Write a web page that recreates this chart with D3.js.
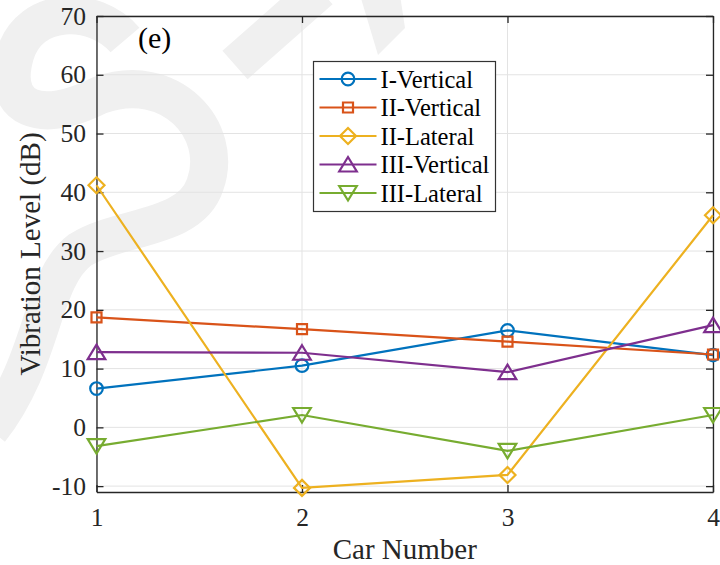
<!DOCTYPE html>
<html>
<head>
<meta charset="utf-8">
<title>Vibration level by car</title>
<style>
body { margin: 0; background: #fff; }
</style>
</head>
<body>
<script src="https://d3js.org/d3.v7.min.js"></script>
<script>

var cars = [1, 2, 3, 4];
var xTicks = [1, 2, 3, 4];
var yTicks = [-10, 0, 10, 20, 30, 40, 50, 60, 70];

var iVertical   = [6.6, 10.5, 16.5, 12.3];
var iiVertical  = [18.7, 16.7, 14.6, 12.4];
var iiLateral   = [41.2, -10.3, -8.1, 36.1];
var iiiVertical = [12.8, 12.7, 9.4, 17.4];
var iiiLateral  = [-3.2, 2.1, -4.0, 2.1];

var seriesNames = ["I-Vertical", "II-Vertical", "II-Lateral", "III-Vertical", "III-Lateral"];
var colors = ["#0072BD", "#D95319", "#EDB120", "#7E2F8E", "#77AC30"];
var markers = ["circle", "square", "diamond", "up", "down"];

var series = [iVertical, iiVertical, iiLateral, iiiVertical, iiiLateral].map(function(v, i) {
  return { name: seriesNames[i], color: colors[i], marker: markers[i], values: v };
});

var serif = "'Liberation Serif', 'Times New Roman', serif";
var ink = "#262626";

// chart dimensions
var width = 720, height = 565;
var margin = { left: 96.5, right: 7, top: 16, bottom: 73 };

var svg = d3.select("body").append("svg")
  .attr("width", width)
  .attr("height", height);

// faint watermark in the background
var wm = svg.append("g").attr("fill", "none").attr("stroke", "#f0f0f0").attr("stroke-width", 38);
wm.append("path").attr("d", "M125,40 C95,5 30,5 15,55 C0,110 40,125 100,95 C170,70 225,130 205,185 C190,230 120,225 80,250 C40,280 45,360 -10,430");
wm.append("path").attr("d", "M320,-10 L235,65");
wm.append("path").attr("d", "M360,-5 L400,-5 L405,28 L378,55 Z").attr("stroke", "none").attr("fill", "#f0f0f0");

var x = d3.scaleLinear().domain([1, 4]).range([margin.left, width - margin.right]);
var y = d3.scaleLinear().domain([-11, 70]).range([height - margin.bottom, margin.top]);

var plot = svg.append("g");

// grid
plot.append("g").selectAll("line").data(yTicks).enter().append("line")
  .attr("x1", x(1)).attr("x2", x(4))
  .attr("y1", function(d) { return y(d); }).attr("y2", function(d) { return y(d); })
  .attr("stroke", "#e3e3e3").attr("stroke-width", 1);
plot.append("g").selectAll("line").data(xTicks).enter().append("line")
  .attr("y1", y(-11)).attr("y2", y(70))
  .attr("x1", function(d) { return x(d); }).attr("x2", function(d) { return x(d); })
  .attr("stroke", "#e3e3e3").attr("stroke-width", 1);

// axes (ticks inside, like matlab)
var tickLen = 7;
var fmt = function(d) { return String(d); };
var xAxis = plot.append("g").attr("transform", "translate(0," + y(-11) + ")")
  .call(d3.axisBottom(x).tickValues(xTicks).tickFormat(fmt).tickSizeInner(-tickLen).tickSizeOuter(0).tickPadding(16));
var xAxisTop = plot.append("g").attr("transform", "translate(0," + y(70) + ")")
  .call(d3.axisTop(x).tickValues(xTicks).tickFormat("").tickSizeInner(-tickLen).tickSizeOuter(0));
var yAxis = plot.append("g").attr("transform", "translate(" + x(1) + ",0)")
  .call(d3.axisLeft(y).tickValues(yTicks).tickFormat(fmt).tickSizeInner(-tickLen).tickSizeOuter(0).tickPadding(10.5));
var yAxisRight = plot.append("g").attr("transform", "translate(" + x(4) + ",0)")
  .call(d3.axisRight(y).tickValues(yTicks).tickFormat("").tickSizeInner(-tickLen).tickSizeOuter(0));

[xAxis, xAxisTop, yAxis, yAxisRight].forEach(function(a) {
  a.attr("font-family", serif);
  a.select(".domain").attr("stroke", ink).attr("stroke-width", 1.3);
  a.selectAll(".tick line").attr("stroke", ink).attr("stroke-width", 1.3);
  a.selectAll("text").style("font-family", serif).style("font-size", "25.5px").attr("fill", ink);
});

// axis labels
svg.append("text")
  .attr("x", (x(1) + x(4)) / 2).attr("y", 559)
  .attr("text-anchor", "middle")
  .style("font-family", serif).style("font-size", "29px").attr("fill", ink)
  .text("Car Number");
svg.append("text")
  .attr("transform", "translate(40," + (y(-11) + y(70)) / 2 + ") rotate(-90)")
  .attr("text-anchor", "middle")
  .style("font-family", serif).style("font-size", "29px").attr("fill", ink)
  .text("Vibration Level (dB)");

svg.append("text").attr("x", 138).attr("y", 48)
  .style("font-family", serif).style("font-size", "30px").attr("fill", "#000")
  .text("(e)");

// markers
function markerPath(type) {
  if (type == "circle") return d3.symbol().type(d3.symbolCircle).size(Math.PI * 6.3 * 6.3)();
  if (type == "square") return "M-5,-5H5V5H-5Z";
  if (type == "diamond") return "M0,-8L8,0L0,8L-8,0Z";
  if (type == "up") return "M0,-7.5L8.8,7L-8.8,7Z";
  if (type == "down") return "M0,7.5L8.8,-7L-8.8,-7Z";
}

var line = d3.line()
  .x(function(d, i) { return x(cars[i]); })
  .y(function(d) { return y(d); });

var lines = svg.append("g");
series.forEach(function(s) {
  lines.append("path")
    .attr("d", line(s.values))
    .attr("fill", "none")
    .attr("stroke", s.color)
    .attr("stroke-width", 2.2);
  lines.append("g").selectAll("path").data(s.values).enter().append("path")
    .attr("transform", function(d, i) { return "translate(" + x(cars[i]) + "," + y(d) + ")"; })
    .attr("d", markerPath(s.marker))
    .attr("fill", "none")
    .attr("stroke", s.color)
    .attr("stroke-width", 2.2);
});

// legend
var lg = svg.append("g").attr("transform", "translate(313.5,61.5)");
lg.append("rect").attr("width", 182).attr("height", 150)
  .attr("fill", "#fff").attr("stroke", "#333").attr("stroke-width", 1.2);
series.forEach(function(s, i) {
  var ly = 17.5 + i * 28.5;
  lg.append("line").attr("x1", 6).attr("x2", 63).attr("y1", ly).attr("y2", ly)
    .attr("stroke", s.color).attr("stroke-width", 2.2);
  lg.append("path").attr("transform", "translate(34.5," + ly + ")")
    .attr("d", markerPath(s.marker))
    .attr("fill", "none").attr("stroke", s.color).attr("stroke-width", 2.2);
  lg.append("text").attr("x", 67).attr("y", ly + 8.5)
    .style("font-family", serif).style("font-size", "24.5px").attr("fill", "#000")
    .text(s.name);
});

</script>
</body>
</html>
